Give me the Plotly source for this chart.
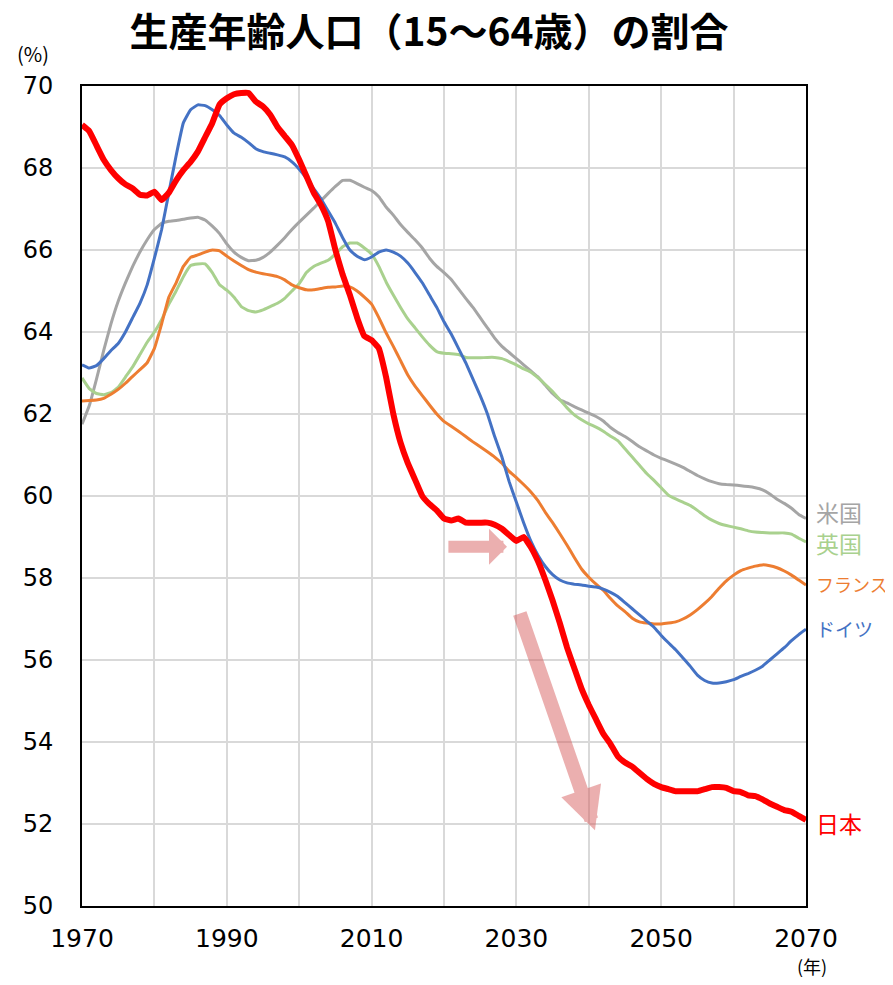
import plotly.graph_objects as go

# 年次 (1970-2070)
years = list(range(1970, 2071))

japan = [69.05, 68.9, 68.55, 68.2, 67.95, 67.75, 67.6, 67.5, 67.35, 67.33,
         67.42, 67.22, 67.4, 67.7, 67.95, 68.15, 68.4, 68.75, 69.1, 69.55,
         69.7, 69.8, 69.83, 69.83, 69.62, 69.5, 69.3, 69.0, 68.78, 68.56,
         68.2, 67.8, 67.4, 67.1, 66.7, 66.0, 65.4, 64.9, 64.35, 63.9,
         63.8, 63.6, 62.9, 62.0, 61.3, 60.8, 60.4, 60.0, 59.8, 59.65,
         59.45, 59.4, 59.45, 59.35, 59.35, 59.35, 59.35, 59.3, 59.2, 59.05,
         58.9, 59.0, 58.75, 58.4, 57.95, 57.45, 56.9, 56.3, 55.8, 55.3,
         54.9, 54.55, 54.2, 53.95, 53.65, 53.5, 53.4, 53.25, 53.1, 52.98,
         52.9, 52.85, 52.8, 52.8, 52.8, 52.8, 52.85, 52.9, 52.9, 52.88,
         52.8, 52.78, 52.7, 52.68, 52.6, 52.5, 52.42, 52.34, 52.3, 52.2,
         52.1]

germany = [63.2, 63.12, 63.18, 63.35, 63.55, 63.72, 64.0, 64.35, 64.7, 65.15,
           65.8, 66.5, 67.4, 68.3, 69.1, 69.42, 69.54, 69.52, 69.42, 69.28,
           69.05, 68.85, 68.75, 68.62, 68.47, 68.4, 68.36, 68.32, 68.27, 68.15,
           67.97, 67.75, 67.5, 67.25, 66.95, 66.65, 66.3, 66.0, 65.85, 65.76,
           65.83, 65.95, 66.0, 65.95, 65.85, 65.68, 65.45, 65.2, 64.9, 64.6,
           64.25, 63.95, 63.6, 63.25, 62.85, 62.45, 62.0, 61.45, 60.95, 60.35,
           59.85, 59.35, 58.9, 58.55, 58.28, 58.08, 57.95, 57.88, 57.85, 57.83,
           57.8, 57.78, 57.73, 57.65, 57.55, 57.4, 57.25, 57.1, 56.95, 56.8,
           56.6, 56.42, 56.25, 56.05, 55.85, 55.63, 55.5, 55.44, 55.44, 55.47,
           55.52, 55.6, 55.67, 55.75, 55.85, 56.0, 56.15, 56.3, 56.47, 56.62,
           56.75]

usa = [61.75, 62.2, 62.85, 63.55, 64.2, 64.75, 65.2, 65.6, 65.95, 66.25,
       66.5, 66.65, 66.7, 66.72, 66.75, 66.78, 66.8, 66.73, 66.58, 66.4,
       66.15, 65.95, 65.82, 65.74, 65.75, 65.82, 65.95, 66.12, 66.3, 66.5,
       66.68, 66.85, 67.02, 67.2, 67.38, 67.55, 67.7, 67.7, 67.62, 67.53,
       67.45, 67.3, 67.05, 66.85, 66.62, 66.43, 66.25, 66.05, 65.8, 65.6,
       65.45, 65.28, 65.05, 64.82, 64.6, 64.35, 64.1, 63.85, 63.65, 63.5,
       63.35, 63.2, 63.05, 62.9, 62.7, 62.5, 62.35, 62.27, 62.18, 62.1,
       62.02, 61.94, 61.83, 61.67, 61.55, 61.45, 61.33, 61.2, 61.1, 61.0,
       60.92, 60.85, 60.78, 60.7, 60.6, 60.5, 60.42, 60.35, 60.3, 60.28,
       60.27, 60.25, 60.23, 60.2, 60.15, 60.05, 59.92, 59.82, 59.7, 59.55,
       59.45]

uk = [62.88, 62.62, 62.5, 62.47, 62.52, 62.65, 62.9, 63.15, 63.45, 63.75,
      64.0, 64.3, 64.68, 65.0, 65.35, 65.62, 65.66, 65.66, 65.45, 65.15,
      65.02, 64.85, 64.62, 64.52, 64.49, 64.54, 64.62, 64.7, 64.82, 65.0,
      65.18, 65.45, 65.6, 65.68, 65.75, 65.9, 66.08, 66.17, 66.17, 66.05,
      65.9, 65.6, 65.22, 64.9, 64.6, 64.32, 64.1, 63.88, 63.68, 63.52,
      63.48, 63.47, 63.45, 63.38, 63.37, 63.37, 63.38, 63.38, 63.35, 63.28,
      63.2, 63.1, 63.02, 62.88, 62.72, 62.55, 62.35, 62.15, 61.98, 61.86,
      61.76, 61.68, 61.58, 61.46, 61.35, 61.15, 60.95, 60.75, 60.55, 60.38,
      60.2, 60.02, 59.93, 59.85, 59.77, 59.65, 59.52, 59.41, 59.33, 59.28,
      59.24, 59.2, 59.15, 59.12, 59.11, 59.1, 59.1, 59.1, 59.07, 58.97,
      58.88]

france = [62.32, 62.33, 62.34, 62.38, 62.48, 62.6, 62.75, 62.92, 63.08, 63.25,
          63.6, 64.2, 64.85, 65.2, 65.6, 65.82, 65.88, 65.95, 66.0, 65.98,
          65.85, 65.73, 65.62, 65.52, 65.46, 65.42, 65.39, 65.35, 65.27, 65.15,
          65.08, 65.03, 65.03, 65.06, 65.09, 65.1, 65.12, 65.1, 65.0, 64.85,
          64.68, 64.35, 63.98, 63.65, 63.3, 62.95, 62.68, 62.45, 62.22, 62.0,
          61.82, 61.7, 61.58, 61.45, 61.32, 61.2, 61.08, 60.95, 60.8, 60.6,
          60.45, 60.28, 60.1, 59.88, 59.6, 59.35, 59.08, 58.8, 58.5, 58.22,
          58.02, 57.85, 57.7, 57.5, 57.32, 57.18, 57.02, 56.93, 56.9, 56.88,
          56.88, 56.9, 56.93, 57.0, 57.1, 57.23, 57.38, 57.55, 57.75, 57.93,
          58.07, 58.18, 58.24, 58.29, 58.32, 58.3, 58.25, 58.17, 58.07, 57.95,
          57.83]

series_names = ["米国", "英国", "フランス", "ドイツ", "日本"]
series_colors = ["#A5A5A5", "#A9D18E", "#ED7D31", "#4472C4", "#FF0000"]
label_y = [59.6, 58.85, 57.85, 56.78, 52.02]
label_size = [23, 23, 18, 19, 23]

font_jp = "Noto Sans CJK JP"
font_num = "DejaVu Sans"

# ページ余白(8px)を見込んだ図の大きさと描画領域
W, H = 885, 969
L, R, T, B = 74, 87, 78, 71
PW, PH = W - L - R, H - T - B

fig = go.Figure()
for name, vals, col, w in zip(series_names, [usa, uk, france, germany, japan],
                              series_colors, [3, 3, 3, 3, 6]):
    fig.add_trace(go.Scatter(x=years, y=vals, mode="lines", name=name,
                             line=dict(color=col, width=w, shape="spline", smoothing=0.3)))

# 右側の系列ラベル
for name, col, yy, sz in zip(series_names, series_colors, label_y, label_size):
    fig.add_annotation(x=2070, y=yy, xref="x", yref="y", text=name,
                       showarrow=False, xanchor="left", xshift=8,
                       font=dict(size=sz, color=col, family=font_jp))

# 矢印
arrow_col = "rgba(214,90,90,0.48)"
fig.add_annotation(x=2028.7, y=58.76, ax=2020.4, ay=58.76,
                   xref="x", yref="y", axref="x", ayref="y",
                   text="", showarrow=True, arrowhead=1, arrowsize=0.5,
                   arrowwidth=12, arrowcolor=arrow_col)
fig.add_annotation(x=2040.85, y=51.85, ax=2030.4, ay=57.17,
                   xref="x", yref="y", axref="x", ayref="y",
                   text="", showarrow=True, arrowhead=2, arrowsize=0.6,
                   arrowwidth=14, arrowcolor=arrow_col)

# 単位
fig.add_annotation(xref="paper", yref="paper", x=(25 - L) / PW, y=(H - B - 46) / PH,
                   xanchor="center", yanchor="middle",
                   text="(%)", showarrow=False,
                   font=dict(size=20, color="black", family=font_jp))
fig.add_annotation(xref="paper", yref="paper", x=(804 - L) / PW, y=(H - B - 958) / PH,
                   xanchor="center", yanchor="middle",
                   text="(年)", showarrow=False,
                   font=dict(size=18, color="black", family=font_jp))

fig.update_layout(
    width=W, height=H,
    margin=dict(l=L, r=R, t=T, b=B),
    plot_bgcolor="white", paper_bgcolor="white",
    showlegend=False,
    title=dict(text="<b>生産年齢人口（15～64歳）の割合</b>", x=421 / W, xanchor="center",
               y=1 - 24 / H, yanchor="middle",
               font=dict(size=39, color="black", family=font_jp)),
    font=dict(family=font_jp, color="black"),
)

fig.update_xaxes(range=[1970, 2070], tickvals=list(range(1970, 2071, 10)),
                 ticktext=[str(y) if (y - 1970) % 20 == 0 else "" for y in range(1970, 2071, 10)],
                 showgrid=True, gridcolor="#D9D9D9", gridwidth=1.5,
                 showline=True, linecolor="black", linewidth=2, mirror=True,
                 ticks="", ticklabelstandoff=9, zeroline=False,
                 tickfont=dict(size=25, color="black", family=font_num))
fig.update_yaxes(range=[50, 70], dtick=2, showgrid=True, gridcolor="#D9D9D9", gridwidth=1.5,
                 showline=True, linecolor="black", linewidth=2, mirror=True,
                 ticks="", ticklabelstandoff=22, zeroline=False,
                 tickfont=dict(size=24, color="black", family=font_num))

fig.write_html("out.html")
